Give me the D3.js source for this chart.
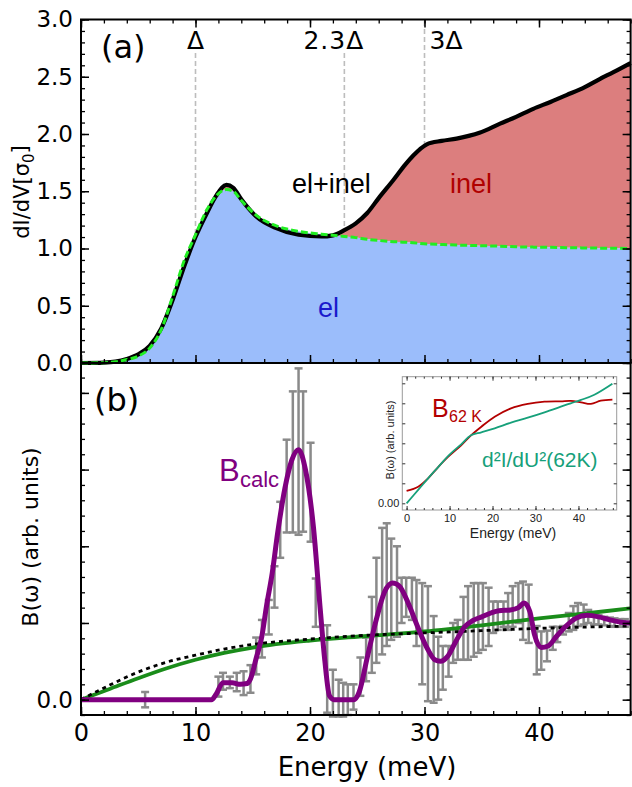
<!DOCTYPE html>
<html><head><meta charset="utf-8">
<script src="https://cdn.jsdelivr.net/npm/d3@7"></script>
<style>body{margin:0;background:#fff}svg{display:block}</style>
</head><body>
<svg id="c" width="632" height="787"></svg>
<script>
// ---------- data ----------
// panel (a)
const topE   = [0,2,3,4,5,6,7,8,9,10,11,11.8,12.7,13.3,14,15.3,17,19,21,22,23,24,25,26,27.3,28.3,29,30.2,31.5,32.8,34.8,36.6,38,39.5,41,42.4,44,45.3,46.5,48];
const totalDIdV = [0,0.004,0.012,0.035,0.075,0.15,0.3,0.55,0.84,1.1,1.31,1.46,1.555,1.53,1.43,1.28,1.18,1.12,1.105,1.115,1.16,1.22,1.31,1.44,1.6,1.73,1.81,1.91,1.94,1.96,2.01,2.09,2.15,2.22,2.28,2.34,2.41,2.48,2.54,2.62];
const elDIdV    = [0,0.003,0.01,0.03,0.06,0.13,0.29,0.58,0.89,1.12,1.34,1.46,1.515,1.5,1.42,1.29,1.2,1.15,1.125,1.115,1.105,1.095,1.08,1.07,1.06,1.055,1.05,1.04,1.035,1.03,1.025,1.02,1.015,1.012,1.01,1.007,1.005,1.003,1.002,1.0];
const gapMarks  = [10, 23, 30];
const gapLabels = ["Δ", "2.3Δ", "3Δ"];
const topYTicks = [0,0.5,1,1.5,2,2.5,3];

// panel (b)
const bcalcE = [0,11.4,11.8,12.4,13.2,13.9,14.5,14.8,15.3,15.8,16.2,16.7,17.2,17.8,18.4,19.0,19.6,20.3,20.9,21.3,21.7,22.1,23.8,24.3,25.0,25.8,26.5,27.2,27.8,28.6,29.4,30.2,30.9,31.4,32.0,32.7,33.5,34.2,35.0,35.8,36.5,37.5,38.2,38.7,39.2,39.6,40.2,40.8,41.5,42.3,43.2,44.2,45.2,46.2,47.2,48];
const bcalcV = [0,0,0.07,0.22,0.22,0.2,0.21,0.27,0.54,0.83,1.22,1.65,2.2,2.75,3.12,3.26,3.0,2.25,1.17,0.5,0.05,0,0,0.1,0.55,1.05,1.4,1.52,1.48,1.25,0.95,0.68,0.52,0.5,0.56,0.75,0.95,1.03,1.08,1.13,1.16,1.17,1.2,1.26,1.15,0.85,0.68,0.7,0.82,0.95,1.06,1.1,1.08,1.04,1.01,1.0];
const greenE = [0,2.5,5,7.5,10,12.5,15,20,25,30,35,40,45,48];
const greenV = [0,0.14,0.28,0.41,0.52,0.61,0.68,0.77,0.83,0.89,0.97,1.06,1.14,1.19];
const dotE   = [0,2.5,5,7.5,10,12.5,15,20,25,30,35,40,45,48];
const dotV   = [0,0.19,0.36,0.49,0.58,0.66,0.72,0.79,0.84,0.87,0.9,0.93,0.95,0.96];
const errE  = [5.6,12.0,12.4,13.0,13.6,14.2,14.8,15.3,15.8,16.4,16.9,17.4,17.96,18.5,19.0,19.4,20.05,20.5,21.5,22.0,22.5,22.9,23.3,23.8,24.4,24.9,25.4,25.8,26.3,26.7,27.1,27.6,28.0,28.4,28.9,29.3,29.8,30.3,30.8,31.2,31.6,32.1,32.5,32.9,33.4,33.8,34.3,34.7,35.1,35.6,36.0,36.4,36.9,37.3,37.7,38.2,38.6,39.1,39.8,40.2,40.7,41.2,41.6,42.1,42.6,43.0,43.4,43.9,44.3,44.8,45.2,45.7,46.2,46.6,47.1,47.5];
const errLo = [-0.1,0.04,0.13,0.15,0.11,0.06,0.09,0.33,0.55,0.85,1.2,1.85,2.18,2.18,2.15,2.19,2.06,0.95,-0.17,-0.22,-0.22,-0.22,-0.2,-0.13,0.05,0.24,0.35,0.48,0.59,0.7,0.78,0.82,1.0,1.08,1.04,0.7,0.2,-0.02,-0.04,0.0,0.13,0.3,0.48,0.52,0.52,0.52,0.56,0.61,0.65,0.7,0.87,0.91,0.95,0.91,0.95,1.0,0.78,0.74,0.33,0.39,0.5,0.65,0.75,0.85,0.89,0.91,0.96,0.98,1.0,0.98,0.98,0.97,0.96,0.95,0.95,0.95];
const errHi = [0.1,0.3,0.35,0.3,0.35,0.37,0.45,0.81,1.04,1.3,1.74,2.58,3.39,4.02,4.32,4.02,3.35,1.58,0.97,0.39,0.26,0.22,0.2,0.2,0.55,0.81,1.34,1.85,2.24,2.3,2.1,2.0,1.59,1.59,1.59,1.56,1.52,1.48,1.09,0.82,0.7,0.7,1.0,1.04,1.34,1.48,1.52,1.52,1.52,1.46,1.28,1.28,1.28,1.39,1.48,1.52,1.54,1.5,0.96,0.89,0.9,0.95,0.95,0.96,1.13,1.22,1.26,1.24,1.17,1.13,1.1,1.08,1.07,1.06,1.05,1.05];
const xTicks = [0,10,20,30,40];

// inset
const insetE    = [0,2.7,5,7.3,9.7,12.7,15,17.4,20.5,24.3,28.2,32.1,35.9,38.2,40.6,42.9,45.2,47.9];
const insetB62K = [0.062,0.083,0.125,0.18,0.233,0.29,0.34,0.383,0.433,0.475,0.497,0.508,0.51,0.512,0.505,0.497,0.513,0.518];
const insetD2E  = [0,2.7,5,7.3,9.7,12.7,15,17.4,20.5,24.3,28.2,32.1,35.9,38.2,40.6,43.7,47.9];
const insetD2   = [0,0.067,0.125,0.18,0.237,0.295,0.34,0.355,0.375,0.403,0.428,0.455,0.483,0.5,0.517,0.543,0.598];

// ---------- drawing ----------
const svg = d3.select("#c");
const F = "DejaVu Sans, sans-serif";
const A = "Liberation Sans, Arial, sans-serif";
const L = 81, R = 630.6;
const x = d3.scaleLinear([0,48],[L,R]);
const yT = d3.scaleLinear([0,3],[363,19.5]);
const yB = d3.scaleLinear([-0.2,4.39],[715,363]);

function noDomain(g){ g.select(".domain").remove(); }

// ----- panel (a)
const gA = svg.append("g");
gapMarks.forEach((m,i)=>{
  gA.append("line").attr("x1",x(m)).attr("x2",x(m))
    .attr("y1", i===2 ? 21 : 53).attr("y2",363)
    .attr("stroke","#bdbdbd").attr("stroke-width",1.6).attr("stroke-dasharray","5,3");
});
const topPts = topE.map((e,i)=>({e, t:totalDIdV[i], el:elDIdV[i]}));
const cv = d3.curveMonotoneX;
gA.append("path").datum(topPts)
  .attr("d", d3.area().x(d=>x(d.e)).y0(d=>yT(d.el)).y1(d=>yT(Math.max(d.t,d.el))).curve(cv))
  .attr("fill","#dc7e7e");
gA.append("path").datum(topPts)
  .attr("d", d3.area().x(d=>x(d.e)).y0(yT(0)).y1(d=>yT(d.el)).curve(cv))
  .attr("fill","#9bbdfb");
gA.append("path").datum(topPts)
  .attr("d", d3.line().x(d=>x(d.e)).y(d=>yT(d.t)).curve(cv))
  .attr("fill","none").attr("stroke","#000").attr("stroke-width",4.2);
gA.append("path").datum(topPts)
  .attr("d", d3.line().x(d=>x(d.e)).y(d=>yT(d.el)).curve(cv))
  .attr("fill","none").attr("stroke","#22ee22").attr("stroke-width",3).attr("stroke-dasharray","7,3");

// gap labels
gA.append("text").attr("x",x(10)).attr("y",49).attr("text-anchor","middle")
  .attr("font-family",F).attr("font-size",25).text(gapLabels[0]);
gA.append("text").attr("x",x(23)+20).attr("y",49).attr("text-anchor","end")
  .attr("font-family",F).attr("font-size",25).attr("letter-spacing","1").text(gapLabels[1]);
gA.append("text").attr("x",x(30)+5).attr("y",49).attr("text-anchor","start")
  .attr("font-family",F).attr("font-size",25).text(gapLabels[2]);

gA.append("text").attr("x",101).attr("y",58).attr("font-family",F).attr("font-size",32).text("(a)");
gA.append("text").attr("x",292).attr("y",193).attr("font-family",A).attr("font-size",27).text("el+inel");
gA.append("text").attr("x",450).attr("y",193).attr("font-family",A).attr("font-size",27).attr("fill","#b00000").text("inel");
gA.append("text").attr("x",318).attr("y",317).attr("font-family",A).attr("font-size",27).attr("fill","#1a1acc").text("el");

// axes (a)
const fmt1 = d3.format(".1f");
gA.append("g").attr("transform",`translate(${L},0)`)
  .call(d3.axisLeft(yT).tickValues(topYTicks).tickSize(-8).tickPadding(8).tickFormat(fmt1))
  .call(noDomain).call(g=>g.selectAll("text").attr("font-family",F).attr("font-size",23).attr("fill","#000"))
  .call(g=>g.selectAll("line").attr("stroke-width",1.5));
gA.append("g").attr("transform",`translate(${L},0)`)
  .call(d3.axisLeft(yT).tickValues(d3.range(0,31).map(v=>v/10)).tickSize(-4).tickFormat(""))
  .call(noDomain).call(g=>g.selectAll("line").attr("stroke-width",1.3));
gA.append("g").attr("transform",`translate(${R},0)`)
  .call(d3.axisRight(yT).tickValues(topYTicks).tickSize(-8).tickFormat(""))
  .call(noDomain).call(g=>g.selectAll("line").attr("stroke-width",1.5));
gA.append("g").attr("transform",`translate(${R},0)`)
  .call(d3.axisRight(yT).tickValues(d3.range(0,31).map(v=>v/10)).tickSize(-4).tickFormat(""))
  .call(noDomain).call(g=>g.selectAll("line").attr("stroke-width",1.3));
[[363,d3.axisBottom],[19.5,d3.axisTop]].forEach(([yy,ax])=>{
  gA.append("g").attr("transform",`translate(0,${yy})`)
    .call(ax(x).tickValues(xTicks).tickSize(-8).tickFormat(""))
    .call(noDomain).call(g=>g.selectAll("line").attr("stroke-width",1.5));
  gA.append("g").attr("transform",`translate(0,${yy})`)
    .call(ax(x).tickValues(d3.range(0,49,2)).tickSize(-4).tickFormat(""))
    .call(noDomain).call(g=>g.selectAll("line").attr("stroke-width",1.3));
});
gA.append("rect").attr("x",L).attr("y",19.5).attr("width",R-L).attr("height",363-19.5)
  .attr("fill","none").attr("stroke","#000").attr("stroke-width",2);

const ylabA = gA.append("text").attr("transform","translate(29,192) rotate(-90)")
  .attr("text-anchor","middle").attr("font-family",F).attr("font-size",21);
ylabA.append("tspan").text("dI/dV[σ");
ylabA.append("tspan").attr("font-size",15).attr("dy","0.3em").text("0");
ylabA.append("tspan").attr("dy","-0.3em").text("]");

// ----- panel (b)
const gB = svg.append("g");
// error bars
const errs = errE.map((e,i)=>({e, lo:errLo[i], hi:errHi[i]}));
const eb = gB.append("g").attr("stroke","#8a8a8a").attr("stroke-width",2.5).attr("fill","none");
errs.forEach(d=>{
  eb.append("line").attr("x1",x(d.e)).attr("x2",x(d.e)).attr("y1",yB(d.lo)).attr("y2",yB(d.hi));
  eb.append("line").attr("x1",x(d.e)-4).attr("x2",x(d.e)+4).attr("y1",yB(d.lo)).attr("y2",yB(d.lo));
  eb.append("line").attr("x1",x(d.e)-4).attr("x2",x(d.e)+4).attr("y1",yB(d.hi)).attr("y2",yB(d.hi));
});
gB.append("path").datum(greenE.map((e,i)=>[e,greenV[i]]))
  .attr("d", d3.line().x(d=>x(d[0])).y(d=>yB(d[1])).curve(d3.curveMonotoneX))
  .attr("fill","none").attr("stroke","#1a8c1a").attr("stroke-width",3.8);
gB.append("path").datum(dotE.map((e,i)=>[e,dotV[i]]))
  .attr("d", d3.line().x(d=>x(d[0])).y(d=>yB(d[1])).curve(d3.curveMonotoneX))
  .attr("fill","none").attr("stroke","#000").attr("stroke-width",2.8).attr("stroke-dasharray","4,4");
gB.append("path").datum(bcalcE.map((e,i)=>[e,bcalcV[i]]))
  .attr("d", d3.line().x(d=>x(d[0])).y(d=>yB(d[1])).curve(d3.curveMonotoneX))
  .attr("fill","none").attr("stroke","#800080").attr("stroke-width",5).attr("stroke-linejoin","round");

gB.append("text").attr("x",94).attr("y",411).attr("font-family",F).attr("font-size",32).text("(b)");
gB.append("text").attr("x",219).attr("y",481).attr("font-family",A).attr("font-size",31).attr("fill","#800080").text("B");
gB.append("text").attr("x",240).attr("y",487).attr("font-family",A).attr("font-size",22).attr("fill","#800080").text("calc");

// axes (b)
gB.append("g").attr("transform",`translate(0,715)`)
  .call(d3.axisBottom(x).tickValues(xTicks).tickSize(-8).tickPadding(9).tickFormat(d3.format("d")))
  .call(noDomain).call(g=>g.selectAll("text").attr("font-family",F).attr("font-size",24).attr("fill","#000"))
  .call(g=>g.selectAll("line").attr("stroke-width",1.5));
gB.append("g").attr("transform",`translate(0,715)`)
  .call(d3.axisBottom(x).tickValues(d3.range(0,49,2)).tickSize(-4).tickFormat(""))
  .call(noDomain).call(g=>g.selectAll("line").attr("stroke-width",1.3));
const bMaj = [0,1,2,3,4];
const bMin = d3.range(-1,22).map(v=>v/5);
[[L,d3.axisLeft],[R,d3.axisRight]].forEach(([xx,ax],k)=>{
  gB.append("g").attr("transform",`translate(${xx},0)`)
    .call(ax(yB).tickValues(bMaj).tickSize(-8).tickPadding(8).tickFormat(d=> (k===0 && d===0) ? "0.0" : ""))
    .call(noDomain).call(g=>g.selectAll("text").attr("font-family",F).attr("font-size",23).attr("fill","#000"))
    .call(g=>g.selectAll("line").attr("stroke-width",1.5));
  gB.append("g").attr("transform",`translate(${xx},0)`)
    .call(ax(yB).tickValues(bMin).tickSize(-4).tickFormat(""))
    .call(noDomain).call(g=>g.selectAll("line").attr("stroke-width",1.3));
});
gB.append("rect").attr("x",L).attr("y",363).attr("width",R-L).attr("height",715-363)
  .attr("fill","none").attr("stroke","#000").attr("stroke-width",2);
gB.append("text").attr("transform","translate(38,537) rotate(-90)")
  .attr("text-anchor","middle").attr("font-family",F).attr("font-size",22).text("B(ω) (arb. units)");
gB.append("text").attr("x",367).attr("y",776).attr("text-anchor","middle")
  .attr("font-family",F).attr("font-size",26).text("Energy (meV)");

// ----- inset
const gI = svg.append("g");
const iL = 402.3, iR = 616.7, iT = 376.7, iB = 510;
const xi = d3.scaleLinear([-1,48.9],[iL,iR]);
const yi = d3.scaleLinear([-0.0335,0.633],[iB,iT]);
gI.append("rect").attr("x",iL).attr("y",iT).attr("width",iR-iL).attr("height",iB-iT)
  .attr("fill","#fff").attr("stroke","#9a9a9a").attr("stroke-width",1);
gI.append("path").datum(insetE.map((e,i)=>[e,insetB62K[i]]))
  .attr("d", d3.line().x(d=>xi(d[0])).y(d=>yi(d[1])).curve(d3.curveCatmullRom))
  .attr("fill","none").attr("stroke","#b30000").attr("stroke-width",1.8);
gI.append("path").datum(insetD2E.map((e,i)=>[e,insetD2[i]]))
  .attr("d", d3.line().x(d=>xi(d[0])).y(d=>yi(d[1])).curve(d3.curveCatmullRom))
  .attr("fill","none").attr("stroke","#16a07a").attr("stroke-width",1.8);
[[iB,d3.axisBottom],[iT,d3.axisTop]].forEach(([yy,ax],k)=>{
  gI.append("g").attr("transform",`translate(0,${yy})`)
    .call(ax(xi).tickValues(xTicks).tickSize(-4).tickPadding(4).tickFormat(k===0?d3.format("d"):""))
    .call(noDomain).call(g=>g.selectAll("text").attr("font-family",A).attr("font-size",11).attr("fill","#222"))
    .call(g=>g.selectAll("line").attr("stroke","#333"));
  gI.append("g").attr("transform",`translate(0,${yy})`)
    .call(ax(xi).tickValues(d3.range(0,49,2)).tickSize(-2).tickFormat(""))
    .call(noDomain).call(g=>g.selectAll("line").attr("stroke","#333"));
});
[[iL,d3.axisLeft],[iR,d3.axisRight]].forEach(([xx,ax],k)=>{
  gI.append("g").attr("transform",`translate(${xx},0)`)
    .call(ax(yi).tickValues([0,0.1,0.2,0.3,0.4,0.5,0.6]).tickSize(-3).tickPadding(3).tickFormat(d=>(k===0&&d===0)?"0.00":""))
    .call(noDomain).call(g=>g.selectAll("text").attr("font-family",A).attr("font-size",11).attr("fill","#222"))
    .call(g=>g.selectAll("line").attr("stroke","#333"));
});
gI.append("text").attr("transform","translate(394,440) rotate(-90)")
  .attr("text-anchor","middle").attr("font-family",A).attr("font-size",11).attr("fill","#222").text("B(ω) (arb. units)");
gI.append("text").attr("x",513).attr("y",538).attr("text-anchor","middle")
  .attr("font-family",A).attr("font-size",14).attr("fill","#222").text("Energy (meV)");
gI.append("text").attr("x",432).attr("y",417).attr("font-family",A).attr("font-size",25).attr("fill","#b30000").text("B");
gI.append("text").attr("x",449).attr("y",422).attr("font-family",A).attr("font-size",16).attr("fill","#b30000").text("62 K");
gI.append("text").attr("x",482).attr("y",467).attr("font-family",A).attr("font-size",21).attr("fill","#16a07a").text("d²I/dU²(62K)");
</script>
</body></html>
